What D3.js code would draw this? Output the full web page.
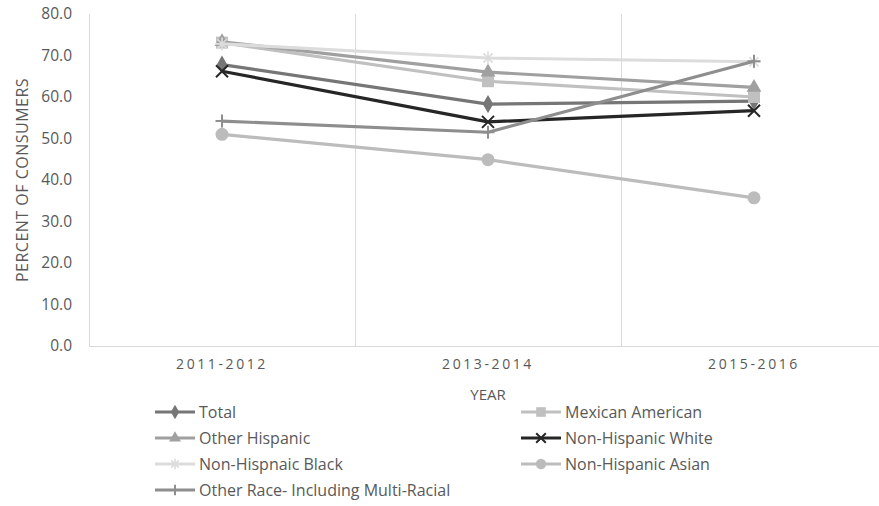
<!DOCTYPE html>
<html>
<head>
<meta charset="utf-8">
<script src="https://cdn.jsdelivr.net/npm/d3@7"></script>
<style>
  html, body { margin: 0; padding: 0; background: #fff; }
  svg { display: block; }
  text { font-family: "Open Sans", "Noto Sans", sans-serif; fill: #595959; }
</style>
</head>
<body>
<svg id="chart" width="879" height="506"></svg>
<script>
// Survey periods and y-axis ticks
const years = ["2011-2012", "2013-2014", "2015-2016"];
const yTicks = [0, 10, 20, 30, 40, 50, 60, 70, 80];

// Percent of consumers per group, one value per period
const total           = [67.8, 58.3, 59.0];
const mexicanAmerican = [73.1, 63.8, 60.0];
const otherHispanic   = [73.3, 66.0, 62.3];
const nhWhite         = [66.2, 54.0, 56.7];
const nhBlack         = [72.8, 69.4, 68.5];
const nhAsian         = [51.0, 44.9, 35.7];
const otherRace       = [54.2, 51.5, 68.6];

const seriesNames = ["Total", "Mexican American", "Other Hispanic", "Non-Hispanic White",
  "Non-Hispnaic Black", "Non-Hispanic Asian", "Other Race- Including Multi-Racial"];
const seriesValues = [total, mexicanAmerican, otherHispanic, nhWhite, nhBlack, nhAsian, otherRace];
const seriesColors = ["#767676", "#c0c0c0", "#a0a0a0", "#262626", "#dcdcdc", "#bcbcbc", "#8e8e8e"];
const seriesMarkers = ["diamond", "square", "triangle", "x", "star", "circle", "plus"];

const svg = d3.select("#chart");
const plotLeft = 89, plotTop = 14, plotBottom = 346, bandW = 266;

const x = d3.scaleBand().domain(years).range([plotLeft, plotLeft + bandW * years.length]).padding(0);
const y = d3.scaleLinear().domain([0, 80]).range([plotBottom, plotTop]);
const cx = d => x(d) + x.bandwidth() / 2;

// Frame: left axis, category separators, baseline
const grid = svg.append("g").attr("stroke", "#d9d9d9").attr("stroke-width", 1);
grid.append("line").attr("x1", plotLeft + 0.5).attr("x2", plotLeft + 0.5).attr("y1", plotTop).attr("y2", plotBottom);
years.slice(1).forEach(yr => {
  grid.append("line").attr("x1", x(yr) + 0.5).attr("x2", x(yr) + 0.5).attr("y1", plotTop).attr("y2", plotBottom);
});
grid.append("line").attr("x1", plotLeft).attr("x2", 879).attr("y1", plotBottom + 0.5).attr("y2", plotBottom + 0.5);

// Y axis labels
const yAxis = d3.axisLeft(y).tickValues(yTicks).tickFormat(d3.format(".1f")).tickSize(0).tickPadding(17);
const yg = svg.append("g").attr("transform", `translate(${plotLeft},0)`).call(yAxis);
yg.select(".domain").remove();
yg.selectAll("text").style("font-size", "15.5px").attr("fill", "#595959")
  .style("font-family", "'Open Sans', sans-serif");

// X axis labels
const xAxis = d3.axisBottom(x).tickSize(0).tickPadding(13);
const xg = svg.append("g").attr("transform", `translate(0,${plotBottom})`).call(xAxis);
xg.select(".domain").remove();
xg.selectAll("text").style("font-size", "14px").style("letter-spacing", "2.6px")
  .attr("fill", "#595959").style("font-family", "'Open Sans', sans-serif");

// Axis titles
svg.append("text").attr("x", cx(years[1])).attr("y", 400).attr("text-anchor", "middle")
  .style("font-size", "15px").text("YEAR");
svg.append("text").attr("transform", `translate(28,${(plotTop + plotBottom) / 2}) rotate(-90)`)
  .attr("text-anchor", "middle").style("font-size", "16px").style("letter-spacing", "0.5px")
  .text("PERCENT OF CONSUMERS");

// Marker drawing
function drawMarker(g, type, color, px, py, s) {
  const k = s || 1;
  if (type === "diamond") {
    g.append("path").attr("d", d3.symbol(d3.symbolDiamond, 95 * k * k)()).attr("transform", `translate(${px},${py})`).attr("fill", color);
  } else if (type === "square") {
    g.append("rect").attr("x", px - 6 * k).attr("y", py - 6 * k).attr("width", 12 * k).attr("height", 12 * k).attr("fill", color);
  } else if (type === "triangle") {
    g.append("path").attr("d", d3.symbol(d3.symbolTriangle, 95 * k * k)()).attr("transform", `translate(${px},${py})`).attr("fill", color);
  } else if (type === "circle") {
    g.append("circle").attr("cx", px).attr("cy", py).attr("r", 6.5 * k).attr("fill", color);
  } else if (type === "x") {
    const r = 6 * k;
    g.append("path").attr("d", `M${px - r},${py - r}L${px + r},${py + r}M${px - r},${py + r}L${px + r},${py - r}`)
      .attr("stroke", color).attr("stroke-width", 2).attr("fill", "none");
  } else if (type === "plus") {
    const r = 6.5 * k;
    g.append("path").attr("d", `M${px - r},${py}L${px + r},${py}M${px},${py - r}L${px},${py + r}`)
      .attr("stroke", color).attr("stroke-width", 2).attr("fill", "none");
  } else if (type === "star") {
    const r = 6.5 * k;
    let d = "";
    for (let i = 0; i < 4; i++) {
      const a = i * Math.PI / 4;
      d += `M${px - r * Math.cos(a)},${py - r * Math.sin(a)}L${px + r * Math.cos(a)},${py + r * Math.sin(a)}`;
    }
    g.append("path").attr("d", d).attr("stroke", color).attr("stroke-width", 1.6).attr("fill", "none");
  }
}

// Series lines and markers
const line = d3.line().x((d, i) => cx(years[i])).y(d => y(d));
const plot = svg.append("g");
seriesValues.forEach((vals, si) => {
  const g = plot.append("g");
  g.append("path").datum(vals).attr("d", line).attr("fill", "none")
    .attr("stroke", seriesColors[si]).attr("stroke-width", 3.2).attr("stroke-linejoin", "round");
  vals.forEach((v, i) => drawMarker(g, seriesMarkers[si], seriesColors[si], cx(years[i]), y(v)));
});

// Legend in two columns
const legend = svg.append("g");
seriesNames.forEach((name, i) => {
  const col = i % 2, row = Math.floor(i / 2);
  const lx = col === 0 ? 155 : 521;
  const ly = 412 + row * 26;
  const g = legend.append("g");
  g.append("line").attr("x1", lx).attr("x2", lx + 40).attr("y1", ly).attr("y2", ly)
    .attr("stroke", seriesColors[i]).attr("stroke-width", 3.2);
  drawMarker(g, seriesMarkers[i], seriesColors[i], lx + 20, ly, 0.8);
  g.append("text").attr("x", lx + 44).attr("y", ly + 5.8).style("font-size", "16px").text(name);
});
</script>
</body>
</html>
